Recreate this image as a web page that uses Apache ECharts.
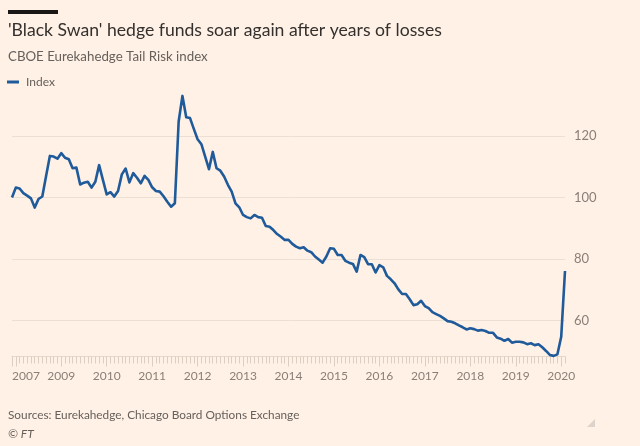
<!DOCTYPE html>
<html>
<head>
<meta charset="utf-8">
<script src="https://cdn.jsdelivr.net/npm/echarts@6/dist/echarts.min.js"></script>
<style>
html,body{margin:0;padding:0;background:#fff1e5;}
#chart{width:640px;height:446px;}
</style>
</head>
<body>
<div id="chart"></div>
<script>
// Monthly index values, starting Dec 2007 (base 100)
const indexValues = [
100, 103.2, 102.9, 101.4, 100.6, 99.7, 96.7, 99.5, 100.3, 107.0,
113.5, 113.3, 112.6, 114.4, 112.9, 112.4, 109.5, 109.7, 104.2, 104.8,
105.1, 103.2, 105.1, 110.5, 105.7, 101.0, 101.7, 100.3, 102.1, 107.5,
109.4, 104.9, 107.9, 106.4, 104.6, 107.0, 105.7, 103.3, 102.1, 101.9,
100.4, 98.6, 97.0, 98.1, 124.7, 133.0, 126.1, 125.8, 122.3, 118.9,
117.3, 113.3, 109.2, 114.8, 109.5, 108.7, 106.8, 104.1, 101.9, 98.1,
96.8, 94.3, 93.6, 93.2, 94.3, 93.6, 93.4, 90.7, 90.5, 89.4,
88.1, 87.2, 86.2, 86.2, 84.9, 84.0, 83.5, 83.8, 82.7, 82.2,
80.8, 79.8, 78.8, 80.8, 83.5, 83.3, 81.3, 81.3, 79.4, 78.8,
78.4, 75.9, 81.3, 80.6, 78.3, 78.3, 75.6, 78.0, 77.3, 74.5,
73.4, 72.1, 70.1, 68.6, 68.6, 66.9, 65.0, 65.3, 66.4, 64.7,
64.0, 62.7, 62.1, 61.5, 60.7, 59.8, 59.6, 59.1, 58.4, 57.8,
57.1, 57.5, 57.2, 56.7, 56.9, 56.6, 56.0, 56.0, 54.5, 54.1,
53.4, 54.0, 52.8, 53.1, 53.1, 52.9, 52.3, 52.6, 52.0, 52.3,
51.3, 50.1, 48.8, 48.5, 49.0, 54.7, 76.1
];
const startYear = 2007;
const startMonth = 12;
// Year labels shown on the x axis
const xTickYears = ['2007', '2009', '2010', '2011', '2012', '2013', '2014', '2015', '2016', '2017', '2018', '2019', '2020'];
const yTickValues = [60, 80, 100, 120];

const months = [];
for (let i = 0; i < indexValues.length; i++) {
  const m0 = startMonth - 1 + i;
  const y = startYear + Math.floor(m0 / 12);
  const m = (m0 % 12) + 1;
  months.push(y + '-' + (m < 10 ? '0' + m : '' + m));
}

function isLabelIdx(idx, val) {
  if (idx === 0) return true;
  const yr = val.slice(0, 4);
  return val.slice(5) === '01' && xTickYears.indexOf(yr) >= 0;
}

const chart = echarts.init(document.getElementById('chart'), null, {renderer: 'canvas'});
const FONT = 'Lato';
const option = {
  backgroundColor: '#fff1e5',
  animation: false,
  textStyle: {fontFamily: FONT},
  legend: {
    left: 7, top: 76, padding: 0,
    itemWidth: 12, itemHeight: 3, itemGap: 10,
    icon: 'rect',
    textStyle: {fontFamily: FONT, fontSize: 12, color: '#66605c', padding: [0, 0, 0, 2]},
    data: ['Index']
  },
  grid: {left: 12, right: 75, top: 95, bottom: 89.5, containLabel: false},
  xAxis: [{
    type: 'category',
    data: months,
    boundaryGap: false,
    position: 'bottom',
    axisLine: {show: true, lineStyle: {color: '#e6d9cc', width: 1}},
    axisTick: {show: true, interval: 0, length: 7, lineStyle: {color: '#dccfc2', width: 1}},
    axisLabel: {
      show: true,
      interval: isLabelIdx,
      formatter: function (val, idx) { return idx === 0 ? xTickYears[0] : val.slice(0, 4); },
      alignMinLabel: 'left',
      margin: 14,
      color: '#8a7f77',
      fontFamily: FONT,
      fontSize: 12
    },
    splitLine: {show: false}
  }, {
    type: 'category',
    data: months,
    boundaryGap: false,
    position: 'bottom',
    axisLine: {show: false},
    axisTick: {show: true, interval: function (idx, val) { return idx === 0 || val.slice(5) === '01'; }, length: 10, lineStyle: {color: '#dccfc2', width: 1}},
    axisLabel: {show: false},
    splitLine: {show: false}
  }],
  yAxis: {
    type: 'value',
    position: 'right',
    min: 48.3,
    max: 133.3,
    splitNumber: 4,
    axisLine: {show: false},
    axisTick: {show: false},
    axisLabel: {
      margin: 9,
      color: '#8a7f77',
      fontFamily: FONT,
      fontSize: 13,
      showMinLabel: false,
      showMaxLabel: false,
      formatter: function (v) { return yTickValues.indexOf(Math.round(v)) >= 0 && Math.abs(v - Math.round(v)) < 1e-6 ? String(v) : ''; }
    },
    splitLine: {show: true, showMinLine: false, showMaxLine: false, lineStyle: {color: '#ece0d4', width: 1}}
  },
  series: [{
    name: 'Index',
    type: 'line',
    xAxisIndex: 0,
    data: indexValues,
    showSymbol: false,
    symbol: 'none',
    smooth: false,
    color: '#1f5a9a',
    lineStyle: {color: '#1f5a9a', width: 2.6, join: 'round'}
  }],
  graphic: [
    {type: 'rect', left: 8, top: 10, shape: {width: 50, height: 4}, style: {fill: '#1a1817'}},
    {type: 'text', x: 8, y: 30.5, style: {text: "'Black Swan' hedge funds soar again after years of losses", fontFamily: FONT, fontSize: 17.6, fill: '#33302e', verticalAlign: 'middle'}},
    {type: 'text', x: 8, y: 56.5, style: {text: 'CBOE Eurekahedge Tail Risk index', fontFamily: FONT, fontSize: 13.3, fill: '#66605c', verticalAlign: 'middle'}},
    {type: 'text', x: 8, y: 415.5, style: {text: 'Sources: Eurekahedge, Chicago Board Options Exchange', fontFamily: FONT, fontSize: 11.8, fill: '#66605c', verticalAlign: 'middle'}},
    {type: 'text', x: 8, y: 434.5, style: {text: '\u00A9 FT', fontFamily: FONT, fontSize: 12, fontStyle: 'italic', fill: '#66605c', verticalAlign: 'middle'}},
    {type: 'polygon', shape: {points: [[595, 419], [595, 427], [587, 427]]}, style: {fill: '#ddd3ca'}}
  ]
};
chart.setOption(option);
</script>
</body>
</html>
